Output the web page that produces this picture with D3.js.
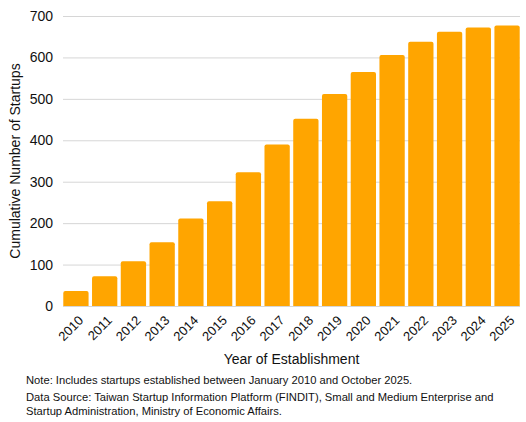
<!DOCTYPE html>
<html>
<head>
<meta charset="utf-8">
<script src="https://cdn.jsdelivr.net/npm/d3@7"></script>
<style>
  body { margin: 0; background: #fff; }
  text { font-family: "Liberation Sans", Arial, sans-serif; fill: #111; }
</style>
</head>
<body>
<div id="chart"></div>
<script>
// Data
const years = ["2010", "2011", "2012", "2013", "2014", "2015", "2016", "2017",
               "2018", "2019", "2020", "2021", "2022", "2023", "2024", "2025"];
const cumulative = [36, 72, 108, 154, 211, 253, 323, 390,
                    452, 512, 565, 606, 638, 662, 672, 677];
const yTicks = [0, 100, 200, 300, 400, 500, 600, 700];
const notes = [
    "Note: Includes startups established between January 2010 and October 2025.",
    "Data Source: Taiwan Startup Information Platform (FINDIT), Small and Medium Enterprise and",
    "Startup Administration, Ministry of Economic Affairs."
];

const svgWidth = 526;
const svgHeight = 422;
const margin = { top: 16, right: 6, bottom: 116, left: 63 };
const width = svgWidth - margin.left - margin.right;
const height = svgHeight - margin.top - margin.bottom;

const svg = d3.select("#chart").append("svg")
    .attr("width", svgWidth)
    .attr("height", svgHeight);

const chart = svg.append("g")
    .attr("transform", `translate(${margin.left}, ${margin.top})`);

// Scales
const xScale = d3.scaleBand()
    .domain(years)
    .range([0, width])
    .paddingInner(0.12)
    .paddingOuter(0.01);

const yScale = d3.scaleLinear()
    .domain([0, 700])
    .range([height, 0]);

// Gridlines + y labels
const yAxis = d3.axisLeft(yScale)
    .tickValues(yTicks)
    .tickSize(-width)
    .tickPadding(10);

chart.append("g")
    .attr("class", "y-axis")
    .call(yAxis)
    .call(g => g.select(".domain").remove())
    .call(g => g.selectAll(".tick line").attr("stroke", "#d6d6d6").attr("stroke-width", 1))
    .call(g => g.selectAll(".tick text")
        .attr("font-size", 14)
        .attr("font-family", "Liberation Sans, Arial, sans-serif")
        .attr("fill", "#111"));

// Bars
chart.selectAll(".bar")
    .data(years.map((y, i) => ({ year: y, value: cumulative[i] })))
    .enter()
    .append("path")
    .attr("class", "bar")
    .attr("fill", "#ffa500")
    .attr("d", d => {
        const x = xScale(d.year);
        const w = xScale.bandwidth();
        const y = yScale(d.value);
        const r = 2;
        return `M${x},${height}V${y + r}Q${x},${y} ${x + r},${y}H${x + w - r}Q${x + w},${y} ${x + w},${y + r}V${height}Z`;
    });

// X labels (rotated -45)
const xAxis = d3.axisBottom(xScale).tickSize(0);
chart.append("g")
    .attr("class", "x-axis")
    .attr("transform", `translate(0, ${height})`)
    .call(xAxis)
    .call(g => g.select(".domain").remove())
    .call(g => g.selectAll(".tick text")
        .attr("font-size", 13)
        .attr("font-family", "Liberation Sans, Arial, sans-serif")
        .attr("fill", "#111")
        .attr("text-anchor", "end")
        .attr("x", 0)
        .attr("y", 0)
        .attr("dy", "0.35em")
        .attr("transform", "translate(5, 12) rotate(-45)"));

// Axis titles
svg.append("text")
    .attr("x", margin.left + width / 2)
    .attr("y", 364)
    .attr("text-anchor", "middle")
    .attr("font-size", 14)
    .text("Year of Establishment");

svg.append("text")
    .attr("transform", `translate(20, ${margin.top + height / 2}) rotate(-90)`)
    .attr("text-anchor", "middle")
    .attr("font-size", 14)
    .text("Cumulative Number of Startups");

// Footnotes
svg.selectAll(".note")
    .data(notes)
    .enter()
    .append("text")
    .attr("class", "note")
    .attr("x", 26)
    .attr("y", (d, i) => [384, 400.5, 415][i])
    .attr("font-size", 11.2)
    .text(d => d);
</script>
</body>
</html>
